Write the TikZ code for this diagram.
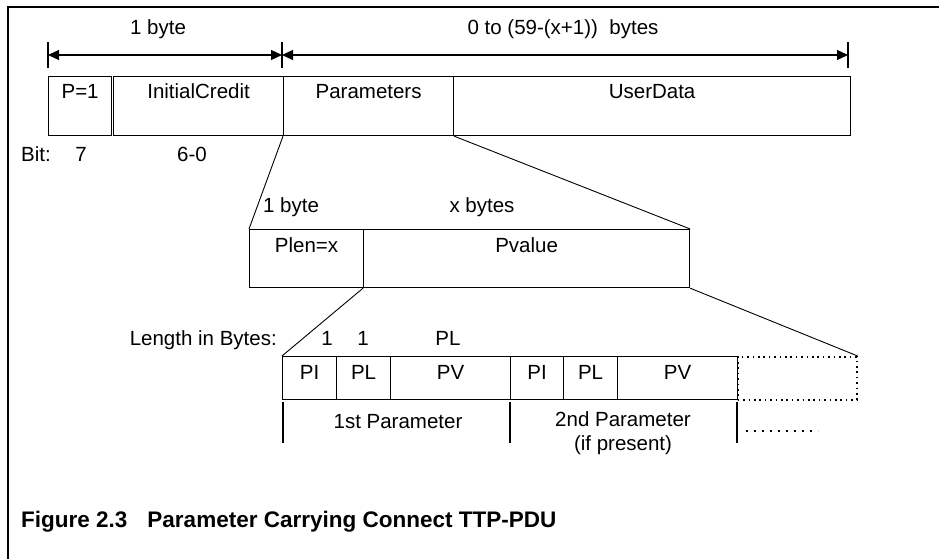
\documentclass[tikz,border=0pt]{standalone}
\usepackage{fontspec}
\setmainfont{Liberation Sans}
\usetikzlibrary{arrows.meta}
\begin{document}
\begin{tikzpicture}[x=1pt,y=-1pt,
  font=\fontsize{20.5}{24}\selectfont,
  box/.style={draw, line width=1.2pt, rectangle, inner sep=0pt, anchor=north west},
  dotbox/.style={box, line width=1.6pt, dash pattern=on 1.6pt off 3.8pt},
  lbl/.style={anchor=base, inner sep=0pt},
  dimline/.style={line width=1.2pt, {Triangle[length=11pt,width=10pt]}-{Triangle[length=11pt,width=10pt]}},
  tick/.style={line width=1.4pt},
  zoomline/.style={line width=0.9pt},
  bracket/.style={line width=1.6pt},
]
\useasboundingbox (0,0) rectangle (939,559);
% frame
\draw[line width=2pt] (8,560) -- (8,7) -- (940,7);

% dimension arrows
\coordinate (t1) at (48,55);
\coordinate (t2) at (282,55);
\coordinate (t3) at (848,55);
\draw[tick] (48,42) -- (48,68);
\draw[tick] (282,42) -- (282,68);
\draw[tick] (848,42) -- (848,68);
\draw[dimline] (t1) -- (t2);
\draw[dimline] (t2) -- (t3);
\node[lbl] (d1) at (158,35) {1 byte};
\node[lbl] (d2) at (563,35) {0 to (59-(x+1))\ \ bytes};

% row 1
\node[box, minimum width=63pt, minimum height=59pt] (p1) at (48,76) {};
\node[box, minimum width=170pt, minimum height=59pt] (ic) at (113,76) {};
\node[box, minimum width=170pt, minimum height=59pt] (par) at (283,76) {};
\node[box, minimum width=397pt, minimum height=59pt] (ud) at (453,76) {};
\node[lbl, yshift=-23pt] (tp1) at (p1.north) {P=1};
\node[lbl, yshift=-23pt] (tic) at (ic.north) {InitialCredit};
\node[lbl, yshift=-23pt] (tpar) at (par.north) {Parameters};
\node[lbl, yshift=-23pt] (tud) at (ud.north) {UserData};
\node[lbl, anchor=base west] (bit) at (21,161) {Bit:};
\node[lbl] (b7) at (81,161) {7};
\node[lbl] (b60) at (192,161) {6-0};

% row 2
\node[box, minimum width=114pt, minimum height=58pt] (plen) at (249,229) {};
\node[box, minimum width=326pt, minimum height=58pt] (pval) at (363,229) {};
\node[lbl, yshift=-23pt] (tplen) at (plen.north) {Plen=x};
\node[lbl, yshift=-23pt] (tpval) at (pval.north) {Pvalue};
\node[lbl] (h1) at (291,212) {1 byte};
\node[lbl] (h2) at (482,212) {x bytes};
\draw[zoomline] (par.south west) -- (plen.north west);
\draw[zoomline] (par.south east) -- (pval.north east);

% row 3
\node[box, minimum width=54pt, minimum height=43pt] (pi1) at (282,356) {};
\node[box, minimum width=54pt, minimum height=43pt] (pl1) at (336,356) {};
\node[box, minimum width=120pt, minimum height=43pt] (pv1) at (390,356) {};
\node[box, minimum width=53pt, minimum height=43pt] (pi2) at (510,356) {};
\node[box, minimum width=54pt, minimum height=43pt] (pl2) at (563,356) {};
\node[box, minimum width=120pt, minimum height=43pt] (pv2) at (617,356) {};
\node[dotbox, minimum width=119pt, minimum height=43pt] (more) at (737,356) {};
\node[lbl, yshift=-23pt] (tpi1) at (pi1.north) {PI};
\node[lbl, yshift=-23pt] (tpl1) at (pl1.north) {PL};
\node[lbl, yshift=-23pt] (tpv1) at (pv1.north) {PV};
\node[lbl, yshift=-23pt] (tpi2) at (pi2.north) {PI};
\node[lbl, yshift=-23pt] (tpl2) at (pl2.north) {PL};
\node[lbl, yshift=-23pt] (tpv2) at (pv2.north) {PV};
\draw[zoomline] (pval.south west) -- (pi1.north west);
\draw[zoomline] (pval.south east) -- (more.north east);
\node[lbl, anchor=base east] (lib) at (277,345) {Length in Bytes:};
\node[lbl] (l1) at (327,345) {1};
\node[lbl] (l2) at (363,345) {1};
\node[lbl] (l3) at (448,345) {PL};

% brackets
\draw[bracket] (283,402) -- (283,443);
\draw[bracket] (510,402) -- (510,443);
\draw[bracket] (737,402) -- (737,443);
\node[lbl] (p1st) at (398,428) {1st Parameter};
\node[lbl, align=center, anchor=north] (p2nd) at (623,411) {2nd Parameter\\(if present)};
\coordinate (ds) at (746,431);
\coordinate (de) at (818,431);
\draw[line width=2.2pt, dash pattern=on 2.2pt off 5.8pt] (ds) -- (de);

% caption
\node[lbl, anchor=base west, font=\bfseries\fontsize{22.5}{27}\selectfont] (cap) at (21,527) {Figure 2.3\hspace{20pt}Parameter Carrying Connect TTP-PDU};
\end{tikzpicture}
\end{document}
